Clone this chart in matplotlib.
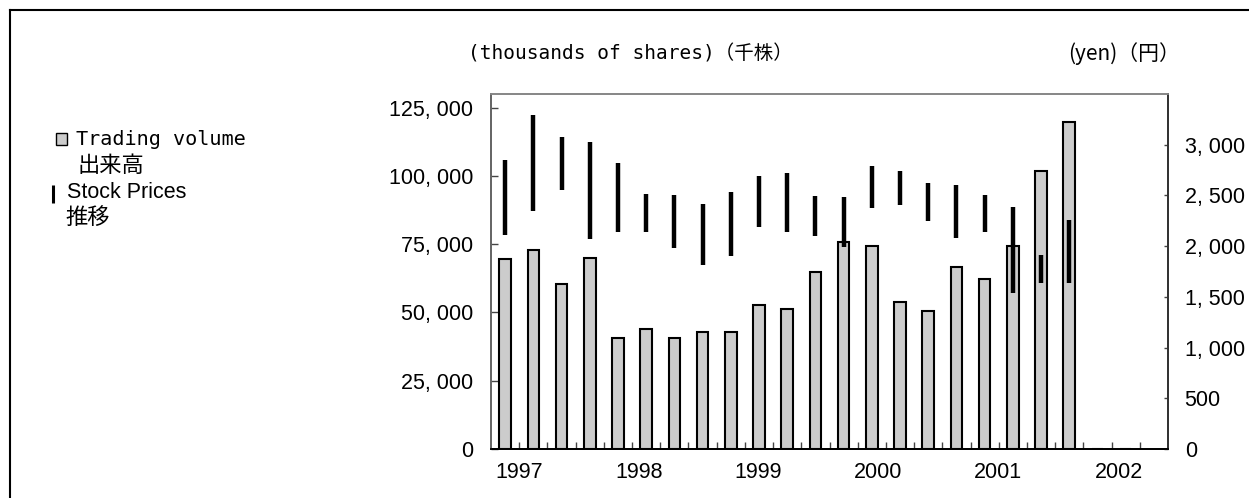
import numpy as np
import matplotlib
matplotlib.use("Agg")
import matplotlib.pyplot as plt
from matplotlib.ticker import FuncFormatter, FixedLocator
from matplotlib.patches import Rectangle
from matplotlib.lines import Line2D

# ---------------- data ----------------
quarters = [f"{y}Q{q}" for y in range(1997, 2003) for q in range(1, 5)]
volume = [69700, 73000, 60300, 69900, 40800, 43900, 40600, 43000, 42800, 52900,
          51400, 65000, 75900, 74200, 53800, 50500, 66800, 62400, 74400, 101900,
          119600, 0, 0, np.nan]
price_high = [2845, 3293, 3079, 3030, 2819, 2516, 2509, 2420, 2529, 2687, 2717,
              2493, 2483, 2789, 2740, 2618, 2605, 2509, 2388, 1917, 2262,
              np.nan, np.nan, np.nan]
price_low = [2114, 2351, 2552, 2075, 2144, 2144, 1979, 1815, 1900, 2186, 2141,
             2098, 1989, 2374, 2401, 2243, 2078, 2137, 1538, 1637, 1637,
             np.nan, np.nan, np.nan]
year_labels = ["1997", "1998", "1999", "2000", "2001", "2002"]
left_ticks = [0, 25000, 50000, 75000, 100000, 125000]
right_ticks = [0, 500, 1000, 1500, 2000, 2500, 3000]

# ---------------- layout ----------------
W, H = 1249, 498
fig = plt.figure(figsize=(W / 100, H / 100), dpi=100)
ax = fig.add_axes([491 / W, 1 - 449 / H, (1168 - 491) / W, (449 - 94) / H])
ax2 = ax.twinx()

x = np.arange(len(quarters))
ax.bar(x, volume, width=0.41, color="#cccccc", edgecolor="black", linewidth=1.5, zorder=2)
ax.set_xlim(-0.5, len(quarters) - 0.5)
ax.set_ylim(0, 130000)

ax2.vlines(x, price_low, price_high, color="black", linewidth=3.2, capstyle="butt", zorder=3)
ax2.set_ylim(0, 3500)

num_font = dict(family=["Liberation Sans", "DejaVu Sans"], size=15.5)
fmt = FuncFormatter(lambda v, p: f"{int(v):,}".replace(",", ", "))

ax.yaxis.set_major_locator(FixedLocator(left_ticks))
ax.yaxis.set_major_formatter(fmt)
ax.tick_params(axis="y", direction="in", length=5, width=1, pad=13, color="#444444")
for lab in ax.get_yticklabels():
    lab.set_fontfamily(num_font["family"]); lab.set_fontsize(num_font["size"])

ax2.yaxis.set_major_locator(FixedLocator(right_ticks))
ax2.yaxis.set_major_formatter(fmt)
ax2.tick_params(axis="y", direction="in", length=3, width=1, pad=12, color="#444444")
for lab in ax2.get_yticklabels():
    lab.set_fontfamily(num_font["family"]); lab.set_fontsize(num_font["size"])

# x axis: minor ticks at category boundaries, year labels as major ticks (no tick mark)
year_pos = [0.49, 4.75, 8.97, 13.22, 17.48, 21.77]
ax.set_xticks(year_pos)
ax.set_xticklabels(year_labels)
ax.set_xticks(np.arange(0.5, len(quarters) - 1, 1.0), minor=True)
ax.tick_params(axis="x", which="major", length=0, pad=9)
ax.tick_params(axis="x", which="minor", direction="in", length=5, width=1, color="#444444")
for lab in ax.get_xticklabels():
    lab.set_fontfamily(num_font["family"]); lab.set_fontsize(num_font["size"])
ax2.tick_params(axis="x", which="both", length=0)

for a in (ax, ax2):
    a.spines["top"].set_color("#888888")
    a.spines["left"].set_color("#666666")
    a.spines["right"].set_color("#333333")
    a.spines["bottom"].set_color("black")
    for s in a.spines.values():
        s.set_linewidth(1.3)

# axis unit labels
fig.text(468 / W, 1 - 54 / H, "(thousands of shares)（千株）",
         family=["DejaVu Sans Mono", "Noto Sans CJK JP"], size=14, va="center", ha="left")
fig.text(1068 / W, 1 - 54 / H, "(yen)（円）",
         family=["Noto Sans CJK JP", "DejaVu Sans"], size=15, va="center", ha="left")

# legend (drawn manually to match the two-line bilingual entries)
fig.patches.append(Rectangle((56 / W, 1 - 145 / H), 11 / W, 12 / H, transform=fig.transFigure,
                             facecolor="#cccccc", edgecolor="black", linewidth=1.0))
fig.text(76 / W, 1 - 139.5 / H, "Trading volume", family=["DejaVu Sans Mono"], size=14.5,
         va="center", ha="left")
fig.text(78 / W, 1 - 166 / H, "出来高", family=["Noto Sans CJK JP"], size=16,
         va="center", ha="left")
fig.lines.append(Line2D([53.5 / W, 53.5 / W], [1 - 185 / H, 1 - 203 / H], transform=fig.transFigure,
                        color="black", linewidth=2.2, solid_capstyle="butt"))
fig.text(67 / W, 1 - 193 / H, "Stock Prices", family=["Liberation Sans"], size=15.5,
         va="center", ha="left")
fig.text(65 / W, 1 - 217 / H, "推移", family=["Noto Sans CJK JP"], size=16,
         va="center", ha="left")

# outer frame (top and left edges visible)
fig.lines.append(Line2D([9.5 / W, 9.5 / W], [0, 1 - 10 / H], transform=fig.transFigure,
                        color="black", linewidth=1.5))
fig.lines.append(Line2D([9.5 / W, 1], [1 - 10 / H, 1 - 10 / H], transform=fig.transFigure,
                        color="black", linewidth=1.5))

fig.savefig("out.png", dpi=100)
